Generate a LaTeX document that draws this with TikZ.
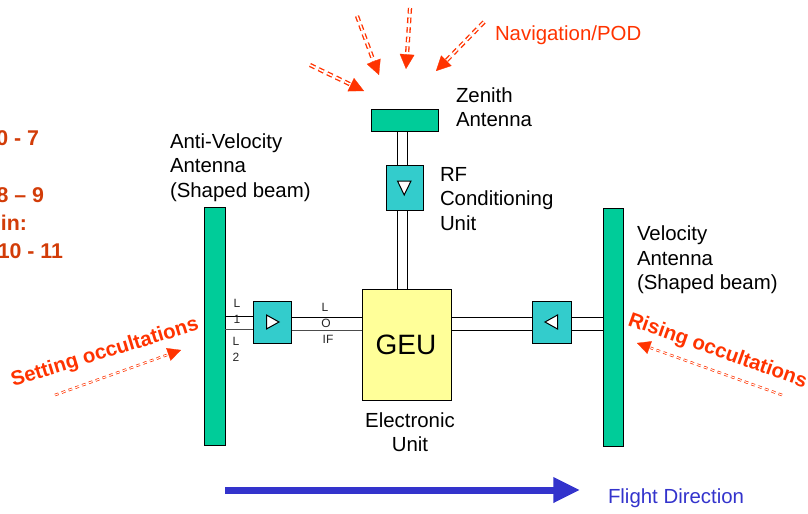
\documentclass[tikz,border=0pt]{standalone}
\usepackage{fontspec}
\setmainfont{Liberation Sans}
\usetikzlibrary{arrows.meta}
\definecolor{ant}{HTML}{00CC99}
\definecolor{amp}{HTML}{33CCCC}
\definecolor{geu}{HTML}{FFFF99}
\definecolor{ray}{HTML}{FF3300}
\definecolor{note}{HTML}{D23C08}
\definecolor{flight}{HTML}{3333CC}
\tikzset{
  box/.style={draw=black,line width=0.75pt,inner sep=0pt,outer sep=0pt},
  antenna/.style={box,fill=ant},
  ampbox/.style={box,fill=amp,minimum width=29pt,minimum height=31.5pt},
  wire/.style={draw=black,line width=0.75pt},
  tri/.style={draw=black,fill=white,line width=0.75pt,line join=miter},
  lbl/.style={inner sep=0pt,outer sep=0pt,font=\fontsize{15.3}{18.4}\selectfont,align=left,anchor=west},
  small/.style={inner sep=0pt,outer sep=0pt,font=\fontsize{9}{9}\selectfont,text=black!85},
  raybig/.style={draw=ray,line width=1pt,double=white,double distance=1.2pt,dash pattern=on 4.2pt off 3pt},
  raythin/.style={draw=ray,line width=0.55pt,double=white,double distance=0.8pt,dash pattern=on 2.8pt off 2.6pt},
  occ/.style={inner sep=0pt,outer sep=0pt,text=ray,font=\bfseries\fontsize{15.3}{18}\selectfont},
  noteT/.style={inner sep=0pt,outer sep=0pt,text=note,anchor=base east,font=\bfseries\fontsize{16}{18}\selectfont}
}
\begin{document}
\begin{tikzpicture}[x=0.75pt,y=-0.75pt]
\useasboundingbox (0,0) rectangle (808,514);
% antennas and boxes
\node[antenna,minimum width=50.25pt,minimum height=16.5pt] (zen) at (404.5,120) {};
\node[ampbox,minimum width=27.75pt,minimum height=33.75pt] (rf) at (404.5,187.5) {};
\node[box,fill=geu,minimum width=66.75pt,minimum height=83.25pt] (unit) at (406.5,344.5) {};
\node[antenna,minimum width=15.75pt,minimum height=178.5pt] (aL) at (214.5,326) {};
\node[antenna,minimum width=15pt,minimum height=178.5pt] (aR) at (613,327) {};
\node[ampbox] (ampL) at (272.5,322) {};
\node[ampbox] (ampR) at (552,322) {};
% wires
\draw[wire] ([xshift=-4.9pt]zen.south) -- ([xshift=-4.9pt]rf.north);
\draw[wire] ([xshift=1.9pt]zen.south) -- ([xshift=1.9pt]rf.north);
\draw[wire] ([xshift=-4.9pt]rf.south) -- ([xshift=-4.9pt]rf.south |- unit.north);
\draw[wire] ([xshift=1.9pt]rf.south) -- ([xshift=1.9pt]rf.south |- unit.north);
\draw[wire] ([yshift=3.9pt]aL.east |- ampL.west) -- ([yshift=3.9pt]ampL.west);
\draw[wire,draw=black!70] ([yshift=-5.9pt]aL.east |- ampL.west) -- ([yshift=-5.9pt]ampL.west);
\draw[wire] ([yshift=3.6pt]ampL.east) -- ([yshift=3.6pt]unit.west |- ampL.east);
\draw[wire,draw=black!70] ([yshift=-6pt]ampL.east) -- ([yshift=-6pt]unit.west |- ampL.east);
\draw[wire] ([yshift=3.6pt]unit.east |- ampR.west) -- ([yshift=3.6pt]ampR.west);
\draw[wire] ([yshift=-6pt]unit.east |- ampR.west) -- ([yshift=-6pt]ampR.west);
\draw[wire] ([yshift=3.6pt]ampR.east) -- ([yshift=3.6pt]aR.west |- ampR.east);
\draw[wire] ([yshift=-6pt]ampR.east) -- ([yshift=-6pt]aR.west |- ampR.east);
% triangles
\draw[tri] (397.5,181) -- (411,181) -- (404.2,195) -- cycle;
\draw[tri] (266.5,315) -- (279,322) -- (266.5,329) -- cycle;
\draw[tri] (557.5,315) -- (545,322) -- (557.5,329) -- cycle;
% labels
\node[inner sep=0pt,font=\fontsize{21}{24}\selectfont] (geulbl) at (406,345) {GEU};
\node[lbl] (zenlbl) at (456,107) {Zenith\\Antenna};
\node[lbl] (rflbl) at (440,199) {RF\\Conditioning\\Unit};
\node[lbl] (alabel) at (170,167.5) {Anti-Velocity\\Antenna\\(Shaped beam)};
\node[lbl] (vlabel) at (637,260) {Velocity\\Antenna\\(Shaped beam)};
\node[lbl,align=center,anchor=center] (eu) at (410,432) {Electronic\\Unit};
\node[lbl,text=ray] (nav) at (495,35) {Navigation/POD};
\node[lbl,text=flight] (fd) at (608,498) {Flight Direction};
\node[small] (l1a) at (237,303) {L};
\node[small] (l1b) at (237,319) {1};
\node[small] (l2a) at (236,341) {L};
\node[small] (l2b) at (236,357) {2};
\node[small] (loa) at (325,307) {L};
\node[small] (lob) at (326,323) {O};
\node[small] (loc) at (328,339) {IF};
% left cropped text
\node[noteT] (n1) at (39,145) {0 - 7};
\node[noteT] (n2) at (44,202) {8 – 9};
\node[noteT] (n3) at (27,230) {in:};
\node[noteT] (n4) at (63,258) {10 - 11};
% occultation labels
\node[occ,rotate=17] (setl) at (105,353) {Setting occultations};
\node[occ,rotate=-19.5] (risl) at (717.5,351.5) {Rising occultations};
% rays
\coordinate (r1s) at (310,65); \coordinate (r1m) at (353,85.7); \coordinate (r1t) at (364,91);
\coordinate (r2s) at (357,16); \coordinate (r2m) at (374.5,63.5); \coordinate (r2t) at (379,75);
\coordinate (r3s) at (410,8);  \coordinate (r3m) at (406.9,57); \coordinate (r3t) at (406,69);
\coordinate (r4s) at (484,22); \coordinate (r4m) at (445,62); \coordinate (r4t) at (436,71);
\coordinate (r5s) at (55,395); \coordinate (r5m) at (168,354.6); \coordinate (r5t) at (181,350);
\coordinate (r6s) at (782,395);\coordinate (r6m) at (650,347.7); \coordinate (r6t) at (637,343);
\foreach \s/\m/\t in {r1s/r1m/r1t,r2s/r2m/r2t,r3s/r3m/r3t,r4s/r4m/r4t}{
  \draw[raybig] (\s) -- (\m);
  \draw[draw=ray,line width=0.2pt,-{Triangle[length=11pt,width=11pt,color=ray]}] (\m) -- (\t);
}
\foreach \s/\m/\t in {r5s/r5m/r5t,r6s/r6m/r6t}{
  \draw[raythin] (\s) -- (\m);
  \draw[draw=ray,line width=0.2pt,-{Triangle[length=10pt,width=10pt,color=ray]}] (\m) -- (\t);
}
% flight arrow
\coordinate (fs) at (225,490); \coordinate (ft) at (580,490);
\draw[draw=flight,line width=5.25pt,-{Triangle[length=20pt,width=18pt,color=flight]}] (fs) -- (ft);
\end{tikzpicture}
\end{document}
